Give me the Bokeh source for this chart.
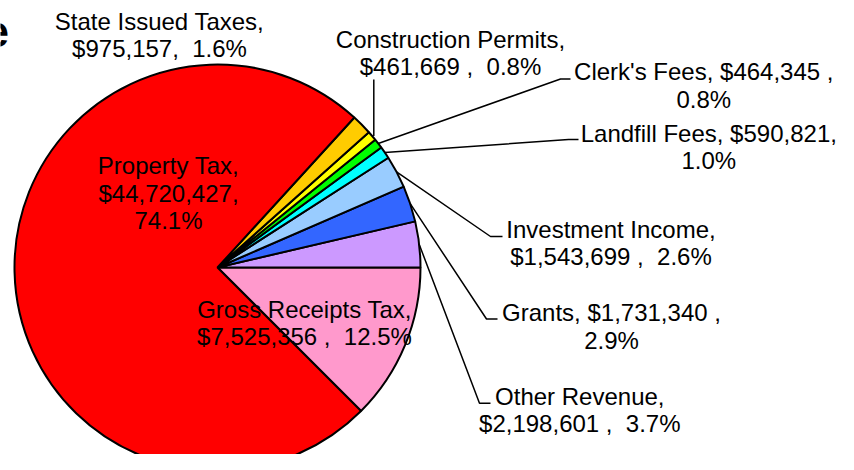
import math
from bokeh.plotting import figure
from bokeh.models import ColumnDataSource, Range1d
from bokeh.core.properties import value
from bokeh.embed import file_html
from bokeh.resources import INLINE

# ---- data (counter-clockwise from the lower-right) ----
categories = ["Gross Receipts Tax", "Other Revenue", "Grants", "Investment Income",
              "Landfill Fees", "Clerk's Fees", "Construction Permits",
              "State Issued Taxes", "Property Tax"]
amounts = [7525356, 2198601, 1731340, 1543699, 590821, 464345, 461669, 975157, 44720427]
percents = ["12.5%", "3.7%", "2.9%", "2.6%", "1.0%", "0.8%", "0.8%", "1.6%", "74.1%"]
colors = ["#FF99CC", "#CC99FF", "#3366FF", "#99CCFF", "#00FFFF", "#00FF00",
          "#FFFF00", "#FFCC00", "#FF0000"]
NB = "\u00a0"
label_lines = [
    ["Gross Receipts Tax,", "$7,525,356 , " + NB + "12.5%"],
    ["Other Revenue,", "$2,198,601 , " + NB + "3.7%"],
    ["Grants, $1,731,340 ,", "2.9%"],
    ["Investment Income,", "$1,543,699 , " + NB + "2.6%"],
    ["Landfill Fees, $590,821,", "1.0%"],
    ["Clerk's Fees, $464,345 ,", "0.8%"],
    ["Construction Permits,", "$461,669 , " + NB + "0.8%"],
    ["State Issued Taxes,", "$975,157, " + NB + "1.6%"],
    ["Property Tax,", "$44,720,427,", "74.1%"],
]
title_tail = "e"   # visible end of a cropped title

# ---- layout (picture pixels) ----
H = 470
def Y(sy):
    return H - sy

CX, CY, R = 217, Y(267), 203
START_DEG = -45.0
TEXT_SHIFT = -7.0
label_pos = [(304, 315.7), (579.3, 402.7), (611, 319.3), (610.5, 236), (708.3, 140),
             (703.3, 78.3), (450, 45.7), (159, 27.7), (168, 172.3)]
LINE_GAP = 27.4
leaders = [None,
           [(479, 402.7), (490, 402.7)],
           [(486, 318.5), (497, 318.5)],
           [(490, 236), (502, 236)],
           [(568, 139), (578, 139)],
           [(560, 78.5), (570, 78.5)],
           [(373.3, 79)],
           None, None]

total = float(sum(amounts))
starts, ends, mids = [], [], []
a = math.radians(START_DEG)
for v in amounts:
    da = 2 * math.pi * v / total
    starts.append(a)
    ends.append(a + da)
    mids.append(a + da / 2)
    a += da

p = figure(width=838, height=454, x_range=Range1d(0, 838), y_range=Range1d(16, 470),
           output_backend="svg", toolbar_location=None, min_border=0)
p.axis.visible = False
p.grid.visible = False
p.outline_line_color = None
p.background_fill_color = "white"
p.border_fill_color = "white"

src = ColumnDataSource(dict(start=starts, end=ends, color=colors, cat=categories))
p.wedge(x=CX, y=CY, radius=R, start_angle="start", end_angle="end",
        direction="anticlock", fill_color="color", line_color="black",
        line_width=2, source=src)

xs, ys = [], []
for i, ld in enumerate(leaders):
    if ld is None:
        continue
    sx = CX + R * math.cos(mids[i])
    sy = CY + R * math.sin(mids[i])
    if categories[i] == "Construction Permits":
        px = [ld[0][0], ld[0][0]]
        py = [sy, Y(ld[0][1])]
    else:
        px = [sx] + [q[0] for q in ld]
        py = [sy] + [Y(q[1]) for q in ld]
    xs.append(px)
    ys.append(py)
p.multi_line(xs, ys, line_color="black", line_width=1.5)

tx, ty, tt = [], [], []
for lines, (lx, ly) in zip(label_lines, label_pos):
    for k, t in enumerate(lines):
        tx.append(lx)
        ty.append(Y(ly + k * LINE_GAP + TEXT_SHIFT))
        tt.append(t)
p.text(x=tx, y=ty, text=tt, text_font=value("Liberation Sans"),
       text_font_size="24px", text_align="center", text_baseline="alphabetic",
       text_color="black")

p.text(x=[8.5], y=[Y(42.5 - 12.0)], text=[title_tail], text_font=value("Liberation Sans"),
       text_font_size="44px", text_font_style="bold", text_align="right",
       text_baseline="alphabetic", text_color="black")

open("out.html", "w").write(file_html(p, INLINE))
